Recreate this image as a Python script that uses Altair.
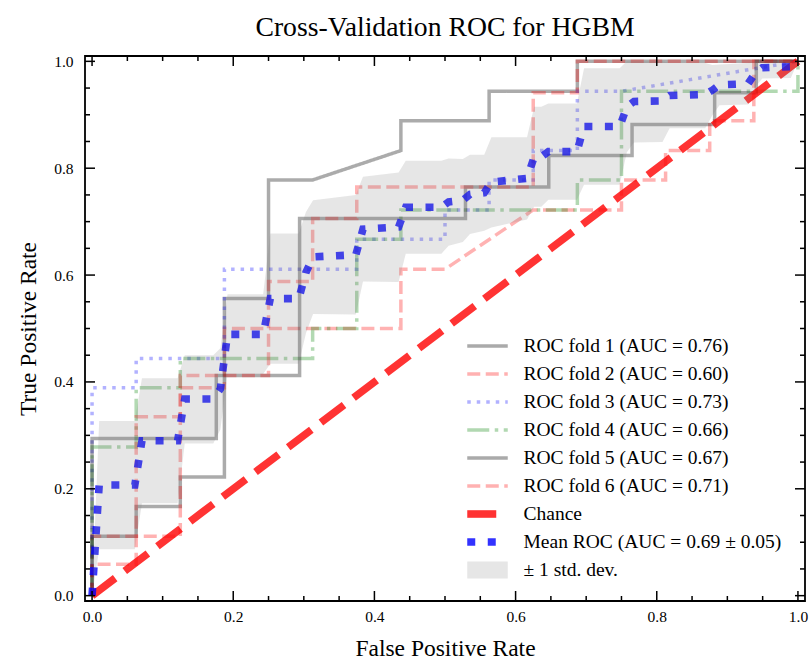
import altair as alt
import pandas as pd

FONT = "Liberation Serif"

# ---------------- data ----------------
fold_names = [
    "ROC fold 1 (AUC = 0.76)",
    "ROC fold 2 (AUC = 0.60)",
    "ROC fold 3 (AUC = 0.73)",
    "ROC fold 4 (AUC = 0.66)",
    "ROC fold 5 (AUC = 0.67)",
    "ROC fold 6 (AUC = 0.71)",
]
chance_name = "Chance"
mean_name = "Mean ROC (AUC = 0.69 \u00b1 0.05)"
band_name = "\u00b1 1 std. dev."

fold1_fpr = [0, 0, 0.0625, 0.0625, 0.125, 0.125, 0.1875, 0.1875, 0.25, 0.25, 0.3125, 0.4375, 0.4375, 0.5625, 0.5625, 0.6875, 0.6875, 1.0]
fold1_tpr = [0, 0.111, 0.111, 0.167, 0.167, 0.222, 0.222, 0.556, 0.556, 0.778, 0.778, 0.833, 0.889, 0.889, 0.944, 0.944, 1.0, 1.0]

fold2_fpr = [0, 0, 0.125, 0.125, 0.1875, 0.1875, 0.4375, 0.4375, 0.5, 0.625, 0.75, 0.75, 0.8125, 0.8125, 0.875, 0.875, 0.9375, 0.9375, 1.0]
fold2_tpr = [0, 0.111, 0.111, 0.389, 0.389, 0.5, 0.5, 0.611, 0.611, 0.722, 0.722, 0.778, 0.778, 0.833, 0.833, 0.889, 0.889, 1.0, 1.0]

fold3_fpr = [0, 0, 0.0625, 0.0625, 0.1875, 0.1875, 0.375, 0.375, 0.5, 0.5, 0.5625, 0.5625, 0.625, 0.625, 0.6875, 0.6875, 0.75, 1.0]
fold3_tpr = [0, 0.389, 0.389, 0.444, 0.444, 0.611, 0.611, 0.667, 0.667, 0.722, 0.722, 0.778, 0.778, 0.833, 0.833, 0.944, 0.944, 1.0]

fold4_fpr = [0, 0, 0.0625, 0.0625, 0.125, 0.125, 0.3125, 0.3125, 0.375, 0.375, 0.4375, 0.4375, 0.6875, 0.6875, 0.75, 0.75, 1.0, 1.0]
fold4_tpr = [0, 0.278, 0.278, 0.389, 0.389, 0.444, 0.444, 0.5, 0.5, 0.667, 0.667, 0.722, 0.722, 0.778, 0.778, 0.944, 0.944, 1.0]

fold5_fpr = [0, 0, 0.176, 0.176, 0.294, 0.294, 0.529, 0.529, 0.647, 0.647, 0.765, 0.765, 0.882, 0.882, 0.941, 0.941, 1.0]
fold5_tpr = [0, 0.294, 0.294, 0.412, 0.412, 0.706, 0.706, 0.765, 0.765, 0.824, 0.824, 0.882, 0.882, 0.941, 0.941, 1.0, 1.0]

fold6_fpr = [0, 0, 0.0625, 0.0625, 0.125, 0.125, 0.25, 0.25, 0.3125, 0.3125, 0.375, 0.375, 0.625, 0.625, 0.6875, 0.6875, 1.0]
fold6_tpr = [0, 0.059, 0.059, 0.335, 0.335, 0.412, 0.412, 0.588, 0.588, 0.706, 0.706, 0.765, 0.765, 0.941, 0.941, 1.0, 1.0]

chance_fpr = [0.0, 1.0]
chance_tpr = [0.0, 1.0]

mean_fpr = [0, 0.0101, 0.0606, 0.0707, 0.1212, 0.1313, 0.1717, 0.1818, 0.1919, 0.2424,
            0.2525, 0.2929, 0.3030, 0.3131, 0.3737, 0.3838, 0.4343, 0.4444, 0.4949, 0.5051,
            0.5253, 0.5354, 0.5556, 0.5657, 0.6162, 0.6263, 0.6364, 0.6465, 0.6869, 0.6970,
            0.7475, 0.7576, 0.7677, 0.8081, 0.8182, 0.8687, 0.8788, 0.8889, 0.9293, 0.9394,
            0.9495, 0.9899, 1.0]
mean_tpr = [0, 0.207, 0.207, 0.290, 0.290, 0.368, 0.368, 0.387, 0.489, 0.489,
            0.556, 0.556, 0.605, 0.634, 0.638, 0.686, 0.690, 0.727, 0.727, 0.737,
            0.740, 0.751, 0.754, 0.774, 0.781, 0.821, 0.821, 0.831, 0.831, 0.878,
            0.878, 0.915, 0.925, 0.926, 0.936, 0.938, 0.946, 0.956, 0.958, 0.978,
            0.988, 0.990, 1.0]
std_upper = [0, 0.327, 0.327, 0.407, 0.407, 0.450, 0.450, 0.463, 0.564, 0.564,
             0.678, 0.678, 0.718, 0.740, 0.750, 0.784, 0.792, 0.814, 0.814, 0.818,
             0.817, 0.825, 0.825, 0.858, 0.858, 0.915, 0.915, 0.921, 0.921, 0.987,
             0.987, 1.0, 1.0, 1.0, 0.997, 0.997, 0.993, 0.994, 0.997, 1.0,
             1.0, 1.0, 1.0]
std_lower = [0, 0.087, 0.087, 0.173, 0.173, 0.285, 0.285, 0.311, 0.415, 0.415,
             0.434, 0.434, 0.491, 0.527, 0.526, 0.588, 0.587, 0.640, 0.640, 0.655,
             0.662, 0.677, 0.683, 0.689, 0.704, 0.728, 0.728, 0.741, 0.741, 0.769,
             0.769, 0.830, 0.848, 0.849, 0.875, 0.875, 0.899, 0.918, 0.919, 0.952,
             0.968, 0.969, 1.0]

x_major = [0.0, 0.2, 0.4, 0.6, 0.8, 1.0]
x_minor = [0.05, 0.1, 0.15, 0.25, 0.3, 0.35, 0.45, 0.5, 0.55, 0.65, 0.7, 0.75, 0.85, 0.9, 0.95]
y_major = [0.0, 0.2, 0.4, 0.6, 0.8, 1.0]
y_minor = [0.05, 0.1, 0.15, 0.25, 0.3, 0.35, 0.45, 0.5, 0.55, 0.65, 0.7, 0.75, 0.85, 0.9, 0.95]

# ---------------- styles ----------------
domain_all = fold_names + [chance_name, mean_name, band_name]
colors = ["black", "red", "blue", "green", "black", "red", "red", "blue", "grey"]
opacities = [0.33, 0.3, 0.3, 0.3, 0.33, 0.3, 0.8, 0.8, 0.2]
dashes = [[1, 0], [13, 5.5], [3.5, 6], [22, 5.5, 3.5, 5.5], [1, 0], [13, 5.5], [29, 12], [8, 12.5], [1, 0]]
widths = [3.5, 3.5, 3.5, 3.5, 3.5, 3.5, 7.6, 7.6, 17]

W, H = 720, 545

# ---------------- tables ----------------
fold_fprs = [fold1_fpr, fold2_fpr, fold3_fpr, fold4_fpr, fold5_fpr, fold6_fpr]
fold_tprs = [fold1_tpr, fold2_tpr, fold3_tpr, fold4_tpr, fold5_tpr, fold6_tpr]
rows = []
for name, fx, ty in zip(fold_names, fold_fprs, fold_tprs):
    for i, (a, b) in enumerate(zip(fx, ty)):
        rows.append({"series": name, "idx": i, "fpr": a, "tpr": b})
folds_df = pd.DataFrame(rows)
chance_df = pd.DataFrame({"series": chance_name, "idx": [0, 1], "fpr": chance_fpr, "tpr": chance_tpr})
mean_df = pd.DataFrame({"series": mean_name, "idx": list(range(len(mean_fpr))), "fpr": mean_fpr, "tpr": mean_tpr})
band_df = pd.DataFrame({"fpr": mean_fpr, "lower": std_lower, "upper": std_upper})

xscale = alt.Scale(domain=[-0.01, 1.01], nice=False, zero=False)
yscale = alt.Scale(domain=[-0.01, 1.01], nice=False, zero=False)

x_axis = alt.Axis(values=x_major, format=".1f", title="False Positive Rate", ticks=False, tickSize=0,
                  domain=False, grid=False, labelFont=FONT, labelFontSize=15.5, labelColor="black",
                  labelPadding=8, labelFlush=False, titleFont=FONT, titleFontSize=23.5,
                  titleFontWeight="normal", titleColor="black", titlePadding=12)
y_axis = alt.Axis(values=y_major, format=".1f", title="True Positive Rate", ticks=False, tickSize=0,
                  domain=False, grid=False, labelFont=FONT, labelFontSize=15.5, labelColor="black",
                  labelPadding=12, labelFlush=False, titleFont=FONT, titleFontSize=23.5,
                  titleFontWeight="normal", titleColor="black", titlePadding=13)

legend = alt.Legend(title=None, orient="none", legendX=373.5, legendY=280, symbolType="stroke",
                    symbolSize=1640, labelFont=FONT, labelFontSize=19.5, labelColor="black",
                    labelOffset=7, clipHeight=20, rowPadding=8, padding=0, labelLimit=500)


def style_enc():
    return dict(
        color=alt.Color("series:N", scale=alt.Scale(domain=domain_all, range=colors), legend=legend),
        opacity=alt.Opacity("series:N", scale=alt.Scale(type="ordinal", domain=domain_all, range=opacities), legend=legend),
        strokeDash=alt.StrokeDash("series:N", scale=alt.Scale(domain=domain_all, range=dashes), legend=legend),
        strokeWidth=alt.StrokeWidth("series:N", scale=alt.Scale(type="ordinal", domain=domain_all, range=widths), legend=legend),
    )


def line_layer(df):
    return alt.Chart(df).mark_line(strokeCap="butt").encode(
        x=alt.X("fpr:Q", scale=xscale, axis=x_axis),
        y=alt.Y("tpr:Q", scale=yscale, axis=y_axis),
        order=alt.Order("idx:Q"),
        detail="series:N",
        **style_enc(),
    )


folds_layer = line_layer(folds_df)
chance_layer = line_layer(chance_df)
mean_layer = line_layer(mean_df)

band_layer = alt.Chart(band_df).mark_area(color="grey", opacity=0.2).encode(
    x=alt.X("fpr:Q", scale=xscale, axis=x_axis),
    y=alt.Y("lower:Q", scale=yscale, axis=y_axis),
    y2="upper:Q",
)


def xticks(vals, length):
    df = pd.DataFrame({"v": vals})
    bottom = alt.Chart(df).mark_rule(color="black", strokeWidth=1.5).encode(
        x=alt.X("v:Q", scale=xscale, axis=x_axis), y=alt.value(H), y2=alt.value(H - length))
    top = alt.Chart(df).mark_rule(color="black", strokeWidth=1.5).encode(
        x=alt.X("v:Q", scale=xscale, axis=x_axis), y=alt.value(0), y2=alt.value(length))
    return [bottom, top]


def yticks(vals, length):
    df = pd.DataFrame({"v": vals})
    left = alt.Chart(df).mark_rule(color="black", strokeWidth=1.5).encode(
        y=alt.Y("v:Q", scale=yscale, axis=y_axis), x=alt.value(0), x2=alt.value(length))
    right = alt.Chart(df).mark_rule(color="black", strokeWidth=1.5).encode(
        y=alt.Y("v:Q", scale=yscale, axis=y_axis), x=alt.value(W), x2=alt.value(W - length))
    return [left, right]


tick_layers = xticks(x_major, 10) + xticks(x_minor, 5) + yticks(y_major, 10) + yticks(y_minor, 5)

chart = alt.layer(
    folds_layer, chance_layer, mean_layer, band_layer, *tick_layers
).properties(
    width=W,
    height=H,
    title=alt.TitleParams("Cross-Validation ROC for HGBM", font=FONT, fontSize=27.7,
                          fontWeight="normal", color="black", anchor="middle", offset=4),
    autosize=alt.AutoSizeParams(type="none"),
    padding={"left": 85, "top": 56, "right": 5, "bottom": 70},
).configure_view(
    stroke="black", strokeWidth=1.8
)

chart.save("out.html", embed_options={"renderer": "svg", "actions": False})
